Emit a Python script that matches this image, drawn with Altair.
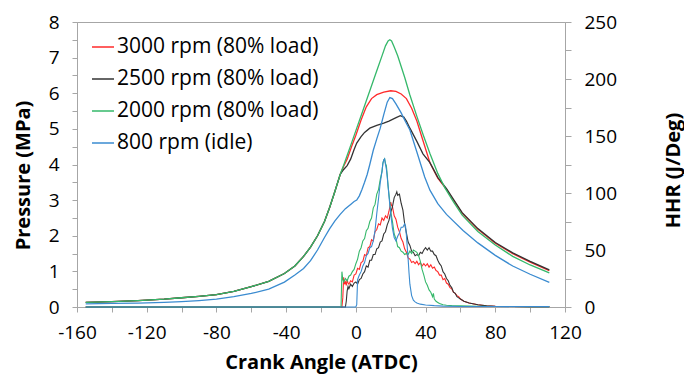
import altair as alt
import pandas as pd

SERIES = ["3000 rpm (80% load)", "2500 rpm (80% load)", "2000 rpm (80% load)", "800 rpm (idle)"]
COLORS = ["#ff2a2a", "#333333", "#35b86a", "#3a8bd0"]

# ---- Pressure (MPa) ----
MOT_CA = [-155, -140, -125, -110, -100, -90, -80, -70, -60, -50, -41, -35, -30, -26, -22, -18, -15, -12, -9]
MOT_P = [0.13, 0.15, 0.18, 0.22, 0.26, 0.30, 0.35, 0.44, 0.57, 0.72, 0.94, 1.15, 1.42, 1.68, 2.0, 2.4, 2.8, 3.25, 3.72]

P3000_CA = [-7, -5, -2.5, 0, 3, 6, 9, 12, 16, 20, 23, 26, 29, 32, 35, 38, 42.5, 47, 52, 56, 61, 70, 80, 90, 100, 111]
P3000 = [3.95, 4.15, 4.5, 4.82, 5.25, 5.62, 5.85, 5.96, 6.03, 6.07, 6.05, 5.98, 5.85, 5.58, 5.22, 4.75, 4.05, 3.62, 3.3, 3.0, 2.63, 2.18, 1.79, 1.5, 1.26, 1.02]

P2500_CA = [-7, -5, -3, -1, 0.5, 3, 5, 8, 12, 16, 19, 22.5, 25.5, 27.5, 29, 31, 35, 38.5, 42.5, 47, 52, 56, 61, 70, 80, 90, 100, 111]
P2500 = [3.86, 3.97, 4.15, 4.42, 4.6, 4.78, 4.9, 5.02, 5.1, 5.16, 5.22, 5.3, 5.37, 5.33, 5.22, 5.02, 4.65, 4.3, 4.05, 3.64, 3.32, 3.02, 2.65, 2.2, 1.81, 1.52, 1.28, 1.04]

P2000_CA = [-7, -5, -2.5, 0, 2.5, 5, 7.5, 10, 12.5, 15, 17, 18.5, 19.5, 20.5, 22, 24, 26, 28, 31, 35, 38.5, 42.5, 47, 51, 56, 61, 70, 80, 90, 100, 111]
P2000 = [3.98, 4.25, 4.6, 4.95, 5.3, 5.65, 6.0, 6.35, 6.7, 7.05, 7.33, 7.47, 7.5, 7.47, 7.3, 7.05, 6.75, 6.45, 5.95, 5.35, 4.85, 4.31, 3.75, 3.35, 2.95, 2.58, 2.12, 1.74, 1.42, 1.18, 0.96]

P800_CA = [-155, -140, -125, -110, -100, -90, -80, -70, -60, -50, -41, -35, -30, -26, -22, -18, -15, -12, -9, -6, -3, -1, 0.5, 2, 3.5, 5, 6.5, 8, 10, 12, 14, 16, 18, 19.5, 21, 23, 26, 28.5, 31, 35, 39.5, 42.5, 47, 52, 61.5, 70, 80, 90, 100, 111]
P800 = [0.09, 0.1, 0.11, 0.13, 0.15, 0.18, 0.22, 0.29, 0.38, 0.5, 0.7, 0.9, 1.08, 1.3, 1.6, 1.95, 2.2, 2.42, 2.6, 2.76, 2.88, 2.96, 3.0, 3.12, 3.3, 3.5, 3.72, 4.0, 4.4, 4.72, 5.02, 5.4, 5.75, 5.88, 5.85, 5.7, 5.45, 5.2, 4.97, 4.35, 3.65, 3.28, 2.9, 2.6, 2.15, 1.8, 1.45, 1.15, 0.92, 0.69]

# ---- HHR (J/Deg) ----
H3000_CA = [-155, -8, -7.5, -7, -6.5, -6, -5.5, -5, -4.5, -4, -3, -2, -1, 0, 1, 2, 3, 4, 5, 6, 7, 8, 9, 10, 11, 12, 13, 14, 15, 16, 17, 18, 19, 20, 20.5, 21, 22, 23, 24, 25, 26, 27, 28, 29, 30, 31, 32, 33, 34, 35, 36, 37, 38, 39, 40, 41, 42, 43, 44, 45, 46, 47, 48, 49, 50, 51, 52, 53, 54, 55, 56, 57, 58, 59, 60, 62, 65, 70, 75, 80, 90, 100, 111]
H3000 = [0, 0, 8, 26, 20, 22, 19, 24, 21, 20, 23, 22, 28, 29, 34, 33, 39, 40, 46, 45, 52, 53, 59, 58, 66, 68, 73, 72, 78, 76, 80, 78, 84, 92, 89, 88, 80, 77, 70, 66, 60, 57, 51, 48, 43, 42, 39, 40, 38, 40, 37, 39, 36, 38, 36, 38, 35, 37, 34, 35, 32, 31, 28, 28, 24, 25, 21, 20, 17, 16, 13, 12, 10, 9, 7, 5, 3.5, 2, 1, 0.6, 0.4, 0.3, 0.3]

H2500_CA = [-155, -6, -5.5, -5, -4.5, -4, -3, -2, -1, 0, 1, 2, 3, 4, 5, 6, 7, 8, 9, 10, 11, 12, 13, 14, 15, 16, 17, 18, 19, 20, 21, 22, 23, 23.5, 24, 25, 26, 27, 28, 29, 30, 31, 32, 33, 34, 35, 36, 37, 38, 39, 40, 41, 42, 43, 44, 45, 46, 47, 48, 49, 50, 51, 52, 53, 54, 55, 56, 57, 58, 59, 60, 62, 65, 70, 75, 80, 90, 100, 111]
H2500 = [0, 0, 5, 14, 18, 16, 20, 18, 21, 22, 20, 24, 25, 29, 31, 36, 35, 41, 41, 46, 46, 51, 52, 57, 58, 64, 66, 72, 76, 83, 88, 96, 99, 101, 98, 99, 91, 85, 73, 65, 57, 54, 49, 48, 45, 46, 45, 48, 47, 50, 52, 50, 52, 49, 49, 46, 45, 41, 38, 36, 31, 29, 25, 23, 19, 17, 13, 12, 9, 8, 7, 5, 3.5, 2, 1, 0.6, 0.4, 0.3, 0.3]

H2000_CA = [-155, -9, -8.5, -8, -7.5, -7, -6, -5, -4, -3, -2, -1, 0, 1, 2, 3, 4, 5, 6, 7, 8, 9, 10, 11, 12, 13, 14, 15, 15.5, 16, 16.5, 17, 17.5, 18, 18.5, 19, 20, 21, 22, 23, 24, 25, 26, 27, 28, 29, 30, 31, 32, 33, 34, 35, 36, 37, 38, 39, 40, 41, 42, 43, 44, 44.5, 45, 46, 47, 48, 50, 52, 55, 60, 70, 80, 90, 100, 111]
H2000 = [0, 0, 0.5, 31, 24, 22, 25, 23, 27, 28, 31, 33, 38, 42, 49, 52, 58, 60, 67, 69, 75, 78, 87, 90, 99, 103, 112, 119, 126, 129, 130, 126, 124, 116, 106, 99, 84, 75, 64, 60, 53, 52, 49, 48, 46, 47, 46, 49, 47, 50, 49, 48, 45, 40, 33, 28, 22, 19, 15, 13, 9, 12, 7, 5, 4, 3, 2, 1.5, 1.2, 1, 0.7, 0.5, 0.4, 0.3, 0.3]

H800_CA = [-155, 0, 0.5, 1, 2, 3, 4, 5, 6, 7, 8, 9, 10, 11, 12, 13, 14, 15, 15.5, 16, 16.5, 17, 17.5, 18, 18.5, 19, 20, 21, 22, 23, 24, 25, 26, 27, 28, 28.5, 29, 30, 30.5, 31, 32, 33, 34, 35, 37, 40, 45, 50, 60, 80, 111]
H800 = [0, 0, 2, 24, 28, 31, 36, 39, 45, 47, 52, 53, 58, 67, 82, 95, 109, 119, 126, 129, 130, 125, 121, 114, 106, 97, 82, 69, 61, 58, 62, 65, 70, 70, 73, 71, 63, 42, 30, 20, 10, 6, 4.5, 3.5, 2.5, 1.8, 1.2, 0.8, 0.5, 0.4, 0.3]

P_X_TICKS = [-160, -140, -120, -100, -80, -60, -40, -20, 0, 20, 40, 60, 80, 100, 120]
P_Y_TICKS = [0, 0.5, 1, 1.5, 2, 2.5, 3, 3.5, 4, 4.5, 5, 5.5, 6, 6.5, 7, 7.5, 8]
H_Y_TICKS = [0, 25, 50, 75, 100, 125, 150, 175, 200, 225, 250]

rows_p = []
for name, cas, vals in [
    (SERIES[0], MOT_CA + P3000_CA, MOT_P + P3000),
    (SERIES[1], MOT_CA + P2500_CA, MOT_P + P2500),
    (SERIES[2], MOT_CA + P2000_CA, MOT_P + P2000),
    (SERIES[3], P800_CA, P800),
]:
    for c, v in zip(cas, vals):
        rows_p.append({"ca": c, "p": v, "series": name})
df_p = pd.DataFrame(rows_p)

rows_h = []
for name, cas, vals in [
    (SERIES[0], H3000_CA, H3000),
    (SERIES[1], H2500_CA, H2500),
    (SERIES[2], H2000_CA, H2000),
    (SERIES[3], H800_CA, H800),
]:
    for c, v in zip(cas, vals):
        rows_h.append({"ca": c, "h": v, "series": name})
df_h = pd.DataFrame(rows_h)

FONT = "Open Sans"
GRAY = "#a6a6a6"

x_enc = alt.X(
    "ca:Q",
    scale=alt.Scale(domain=[-160, 120], nice=False, zero=False),
    axis=alt.Axis(
        values=P_X_TICKS,
        labelExpr="datum.value % 40 == 0 ? '' + datum.value : ''",
        title="Crank Angle (ATDC)",
        titleFont=FONT, titleFontSize=20, titleFontWeight="bold", titleColor="black",
        titleY=55, titleBaseline="middle",
        labelFont=FONT, labelFontSize=19, labelColor="black", labelPadding=11,
        tickSize=5, tickColor=GRAY, domainColor=GRAY, grid=False,
        labelFlush=False, labelOverlap=False,
    ),
)

color_enc = alt.Color(
    "series:N",
    scale=alt.Scale(domain=SERIES, range=COLORS),
    sort=SERIES,
    legend=alt.Legend(
        title=None, orient="none", legendX=14, legendY=13,
        symbolType="stroke", symbolSize=484, symbolStrokeWidth=1.5,
        labelFont=FONT, labelFontSize=21, labelColor="black", labelLimit=400,
        labelOffset=2, rowPadding=10, padding=0,
    ),
)

pressure = alt.Chart(df_p).mark_line(strokeWidth=1.3).encode(
    x=x_enc,
    y=alt.Y(
        "p:Q",
        scale=alt.Scale(domain=[0, 8], nice=False),
        axis=alt.Axis(
            values=P_Y_TICKS,
            labelExpr="datum.value % 1 == 0 ? '' + datum.value : ''",
            title="Pressure (MPa)",
            titleFont=FONT, titleFontSize=20, titleFontWeight="bold", titleColor="black",
            titleAngle=270, titleX=-54, titleY=153, titleAlign="center", titleBaseline="middle",
            labelFont=FONT, labelFontSize=19, labelColor="black", labelPadding=13,
            tickSize=5, tickColor=GRAY, domainColor=GRAY, grid=False,
            labelFlush=False, labelOverlap=False,
        ),
    ),
    color=color_enc,
)

hhr = alt.Chart(df_h).mark_line(strokeWidth=1.1).encode(
    x=x_enc,
    y=alt.Y(
        "h:Q",
        scale=alt.Scale(domain=[0, 250], nice=False),
        axis=alt.Axis(
            orient="right",
            values=H_Y_TICKS,
            labelExpr="datum.value % 50 == 0 ? '' + datum.value : ''",
            title="HHR (J/Deg)",
            titleFont=FONT, titleFontSize=20, titleFontWeight="bold", titleColor="black",
            titleAngle=270, titleX=108, titleY=148, titleAlign="center", titleBaseline="middle",
            labelFont=FONT, labelFontSize=19, labelColor="black", labelPadding=13,
            tickSize=6, tickColor=GRAY, domainColor=GRAY, grid=False,
            labelFlush=False, labelOverlap=False,
        ),
    ),
    color=color_enc,
)

chart = (
    alt.layer(pressure, hhr)
    .resolve_scale(y="independent")
    .properties(
        width=488,
        height=285,
        padding={"left": 77, "top": 22, "right": 119, "bottom": 69},
        autosize=alt.AutoSizeParams(type="none"),
        background="white",
    )
    .configure_view(stroke=GRAY, strokeWidth=1)
)

chart.save("out.html", embed_options={"renderer": "svg", "actions": False})
